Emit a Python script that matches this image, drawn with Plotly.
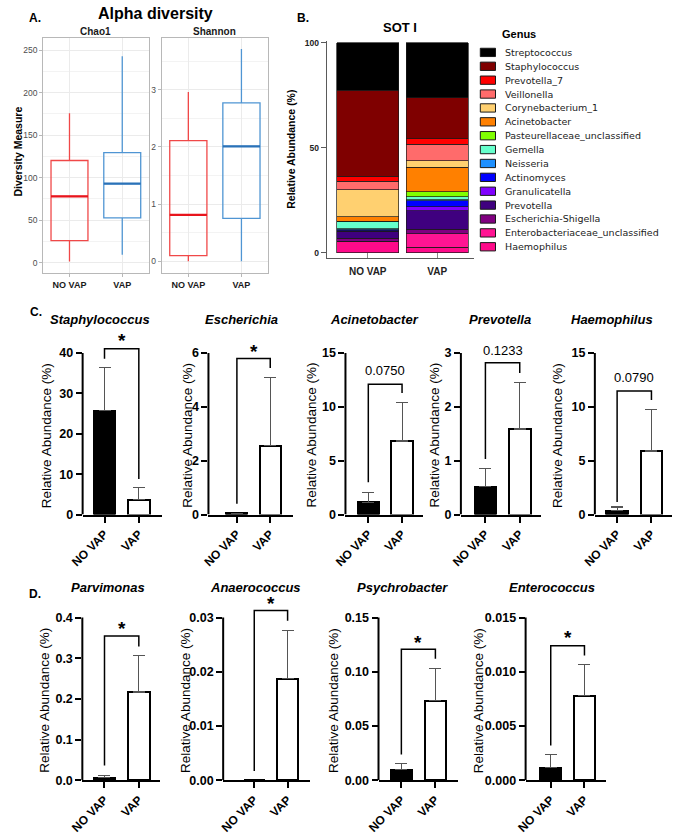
import plotly.graph_objects as go

W, H = 674, 840
FONT = "Liberation Sans, Arial, sans-serif"


def px(x):
    return x / W


def py(y):
    return 1 - y / H


groups = ["NO VAP", "VAP"]

# ---------------- Panel A data (box statistics) ----------------
chao1_min = [1.2, 9.3]
chao1_q1 = [25.9, 52.7]
chao1_median = [77.9, 93.0]
chao1_q3 = [120.1, 129.4]
chao1_max = [175.6, 242.7]

shannon_min = [0.0, 0.0]
shannon_q1 = [0.10, 0.75]
shannon_median = [0.81, 2.01]
shannon_q3 = [2.11, 2.77]
shannon_max = [2.96, 3.71]

# ---------------- Panel B data (relative abundance, %) ----------------
genus = ["Streptococcus", "Staphylococcus", "Prevotella_7", "Veillonella",
         "Corynebacterium_1", "Acinetobacter", "Pasteurellaceae_unclassified",
         "Gemella", "Neisseria", "Actinomyces", "Granulicatella", "Prevotella",
         "Escherichia-Shigella", "Enterobacteriaceae_unclassified", "Haemophilus"]
abund_novap = [22.6, 41.0, 2.35, 3.95, 13.0, 2.07, 0.3, 3.4, 0.3, 0.5, 0.3, 3.4, 1.3, 0.3, 5.2]
abund_vap = [26.2, 19.4, 2.7, 7.8, 3.15, 11.6, 2.5, 1.3, 0.6, 2.7, 2.0, 8.9, 2.0, 6.6, 2.5]
genus_colors = ["#000000", "#7F0000", "#FF0000", "#FF6B6B", "#FFD070", "#FF8000",
                "#80FF00", "#66FFCC", "#1E90FF", "#0000FF", "#8000FF", "#3F007F",
                "#800080", "#FF1493", "#FF0A8A"]

# ---------------- Panels C / D data (mean, upper error) ----------------
taxa_c = ["Staphylococcus", "Escherichia", "Acinetobacter", "Prevotella", "Haemophilus"]
mean_c = [[25.7, 3.67], [0.05, 2.55], [1.15, 6.83], [0.52, 1.59], [0.34, 5.9]]
err_c = [[10.7, 2.93], [0.0, 2.53], [0.93, 3.57], [0.34, 0.86], [0.36, 3.9]]
label_c = ["*", "*", "0.0750", "0.1233", "0.0790"]

taxa_d = ["Parvimonas", "Anaerococcus", "Psychrobacter", "Enterococcus"]
mean_d = [[0.006, 0.217], [0.0, 0.0187], [0.0097, 0.0734], [0.00113, 0.0078]]
err_d = [[0.005, 0.090], [0.0, 0.009], [0.0055, 0.0296], [0.00123, 0.00289]]
label_d = ["*", "*", "*", "*"]

# ---------------- layout geometry (pixels) ----------------
c_geom = [
    dict(ya=71, p0=93.3, s=35, right=151.7, tmax=40, dtick=10, fmt="d",
         tx=89, ytx=33.5, br=[38.6, 41.05, 8.8], lab_y=44.0),
    dict(ya=199.3, p0=228.3, s=34, right=285, tmax=6, dtick=2, fmt="d",
         tx=233, ytx=178, br=[0.4, 5.8, 5.45], lab_y=6.22),
    dict(ya=339, p0=362.3, s=34.4, right=418.3, tmax=15, dtick=5, fmt="d",
         tx=369, ytx=304, br=[3.0, 12.1, 11.3], lab_y=13.4),
    dict(ya=456.7, p0=481.7, s=35, right=538.3, tmax=3, dtick=1, fmt="d",
         tx=497, ytx=429.5, br=[1.03, 2.82, 2.63], lab_y=3.05),
    dict(ya=593.3, p0=616, s=35, right=672, tmax=15, dtick=5, fmt="d",
         tx=611, ytx=555.5, br=[1.17, 11.48, 10.65], lab_y=12.7),
]
d_geom = [
    dict(ya=70.7, p0=93.3, s=35, right=150, tmax=0.4, dtick=0.1, fmt=".1f",
         tx=97, ytx=32, br=[0.036, 0.355, 0.329], lab_y=0.382),
    dict(ya=214.3, p0=246, s=34, right=302.7, tmax=0.03, dtick=0.01, fmt=".2f",
         tx=247.5, ytx=176, br=[0.0017, 0.0313, 0.0294], lab_y=0.0334),
    dict(ya=372.7, p0=396, s=34.7, right=454, tmax=0.15, dtick=0.05, fmt=".2f",
         tx=396.7, ytx=327, br=[0.0236, 0.1207, 0.112], lab_y=0.131),
    dict(ya=522.7, p0=548.3, s=34.4, right=605, tmax=0.015, dtick=0.005, fmt=".3f",
         tx=550, ytx=474, br=[0.0032, 0.0124, 0.0115], lab_y=0.01349),
]
ROWS = {
    "C": dict(zero=517.7, ttop=354.3, dtop=336, title_y=320, ytitle_y=437.5),
    "D": dict(zero=786.5, ttop=622.0, dtop=598, title_y=591.7, ytitle_y=705.7),
}

fig = go.Figure()
layout = {}
shapes = []
annotations = []


def axname(n, letter):
    return letter + ("" if n == 1 else str(n))


def ann(text, x, y, size, bold=False, italic=False, color="#000", xanchor="center",
        yanchor="middle", angle=0, family=FONT, xref="paper", yref="paper", yshift=0):
    annotations.append(dict(
        text=text, x=x, y=y, xref=xref, yref=yref, showarrow=False,
        xanchor=xanchor, yanchor=yanchor, textangle=angle, yshift=yshift,
        font=dict(family=family, size=size, color=color,
                  weight="bold" if bold else "normal",
                  style="italic" if italic else "normal")))


# ---------------- Panel A ----------------
box_colors = ["#F04848", "#4F95D3"]
median_colors = ["#E8141C", "#2A72B8"]
a_panels = [
    dict(n=1, x0=30.7, x1=138.3, rng=[-12.0, 264.8], dtick=50, minor=25, label="Chao1",
         stats=(chao1_min, chao1_q1, chao1_median, chao1_q3, chao1_max)),
    dict(n=2, x0=151.7, x1=260.0, rng=[-0.2, 3.91], dtick=1, minor=0.5, label="Shannon",
         stats=(shannon_min, shannon_q1, shannon_median, shannon_q3, shannon_max)),
]
for p in a_panels:
    n = p["n"]
    xa, ya = axname(n, "x"), axname(n, "y")
    mins, q1s, meds, q3s, maxs = p["stats"]
    for i in range(2):
        fig.add_trace(go.Box(
            x=[i], q1=[q1s[i]], median=[meds[i]], q3=[q3s[i]],
            lowerfence=[mins[i]], upperfence=[maxs[i]], width=0.7, whiskerwidth=0,
            line=dict(color=box_colors[i], width=1.3), fillcolor="rgba(0,0,0,0)",
            boxpoints=False, showlegend=False, hoverinfo="skip", xaxis=xa, yaxis=ya))
        fig.add_trace(go.Scatter(
            x=[i - 0.35, i + 0.35], y=[meds[i], meds[i]], mode="lines",
            line=dict(color=median_colors[i], width=2.2), showlegend=False,
            hoverinfo="skip", xaxis=xa, yaxis=ya))
    layout["xaxis" + ("" if n == 1 else str(n))] = dict(
        domain=[px(p["x0"]), px(p["x1"])], anchor=ya, range=[-0.5, 1.5],
        tickvals=[0, 1], ticktext=groups, showgrid=True, gridcolor="#EBEBEB", gridwidth=1,
        showline=True, mirror=True, linecolor="#B8B8B8", linewidth=1,
        ticks="outside", ticklen=3, tickcolor="#B8B8B8", zeroline=False,
        tickfont=dict(family=FONT, size=9, color="#1A1A1A", weight="bold"))
    layout["yaxis" + ("" if n == 1 else str(n))] = dict(
        domain=[py(273), py(35)], anchor=xa, range=p["rng"], dtick=p["dtick"], tick0=0,
        showgrid=True, gridcolor="#EBEBEB", gridwidth=1,
        minor=dict(dtick=p["minor"], tick0=0, showgrid=True, gridcolor="#F3F3F3", gridwidth=0.6),
        showline=True, mirror=True, linecolor="#B8B8B8", linewidth=1,
        ticks="outside", ticklen=3, tickcolor="#B8B8B8", zeroline=False,
        tickfont=dict(family=FONT, size=8.5, color="#4D4D4D"))
    ann(p["label"], px((p["x0"] + p["x1"]) / 2), py(28.5), 10, bold=True, color="#1A1A1A")

ann("Alpha diversity", px(145), py(10.5), 16, bold=True)
ann("A.", px(14), py(15), 12, bold=True, xanchor="left")
ann("Diversity Measure", px(5.5), py(150), 10.5, bold=True, angle=-90)

# ---------------- Panel B ----------------
b_center0, b_step = 361.7, 70.8
b_left, b_right = 320, 470
b_zero, b_scale = 252.7, 2.124
for name, v0, v1, col in reversed(list(zip(genus, abund_novap, abund_vap, genus_colors))):
    fig.add_trace(go.Bar(
        x=[0, 1], y=[v0, v1], width=0.895, name=name,
        marker=dict(color=col, line=dict(color="#1A1A1A", width=0.7)),
        showlegend=False, hoverinfo="skip", xaxis="x3", yaxis="y3"))
layout["barmode"] = "stack"
layout["xaxis3"] = dict(
    domain=[px(b_left), px(b_right)], anchor="y3",
    range=[(b_left - b_center0) / b_step, (b_right - b_center0) / b_step],
    tickvals=[0, 1], ticktext=groups, showgrid=False, zeroline=False,
    showline=True, linecolor="#5A5A5A", linewidth=1.3,
    ticks="inside", ticklen=5, tickcolor="#8A8A8A", tickwidth=1, ticklabelstandoff=4,
    tickfont=dict(family=FONT, size=10, color="#222", weight="bold"))
layout["yaxis3"] = dict(
    domain=[py(258.3), py(38)], anchor="x3",
    range=[-(258.3 - b_zero) / b_scale, (b_zero - 38) / b_scale],
    tickvals=[0, 50, 100], showgrid=False, zeroline=False,
    showline=True, linecolor="#5A5A5A", linewidth=1.3,
    ticks="outside", ticklen=5, tickcolor="#5A5A5A", tickwidth=1.3,
    tickfont=dict(family=FONT, size=8.5, color="#222", weight="bold"))
ann("B.", px(288), py(15), 12, bold=True, xanchor="left")
ann("SOT I", px(395), py(25), 13, bold=True)
ann("Relative Abundance (%)", px(284), py(148), 10.5, bold=True, angle=-90)

# manual legend
ann("Genus", px(497), py(31), 11, bold=True, xanchor="left")
for i, (name, col) in enumerate(zip(genus, genus_colors)):
    yc = 50 + i * 14.05
    shapes.append(dict(type="rect", xref="paper", yref="paper",
                       x0=px(476.5), x1=px(492), y0=py(yc + 4.2), y1=py(yc - 4.2),
                       fillcolor=col, line=dict(color="#1A1A1A", width=1)))
    ann(name, px(499.5), py(yc), 9.5, xanchor="left", color="#222",
        family="DejaVu Sans, sans-serif")


# ---------------- Panels C and D ----------------
def bar_panel(n, taxon, means, errs, label, g, row):
    xa, ya = "x" + str(n), "y" + str(n)
    r = ROWS[row]
    rtop = g["tmax"] * (r["zero"] - r["dtop"]) / (r["zero"] - r["ttop"])
    fig.add_trace(go.Bar(
        x=[0, 1], y=means, width=0.63,
        marker=dict(color=["#000000", "#FFFFFF"], line=dict(color="#000000", width=2)),
        error_y=dict(type="data", array=errs, arrayminus=[0, 0], symmetric=False,
                     color="#555555", thickness=1.1, width=6),
        showlegend=False, hoverinfo="skip", xaxis=xa, yaxis=ya))
    b = g["br"]
    fig.add_trace(go.Scatter(
        x=[0, 0, 1, 1], y=[b[0], b[1], b[1], b[2]], mode="lines",
        line=dict(color="#000000", width=1.5), showlegend=False, hoverinfo="skip",
        xaxis=xa, yaxis=ya))
    ticks = []
    k = 0
    while k * g["dtick"] <= g["tmax"] * 1.0001:
        ticks.append(round(k * g["dtick"], 6))
        k += 1
    layout["xaxis" + str(n)] = dict(
        domain=[px(g["ya"]), px(g["right"])], anchor=ya,
        range=[(g["ya"] - g["p0"]) / g["s"], (g["right"] - g["p0"]) / g["s"]],
        tickvals=[0, 1], ticktext=groups, tickangle=-45, showgrid=False, zeroline=False,
        showline=True, linecolor="#000", linewidth=2,
        ticks="outside", ticklen=6, tickwidth=2, tickcolor="#000",
        tickfont=dict(family=FONT, size=12, color="#000", weight="bold"))
    layout["yaxis" + str(n)] = dict(
        domain=[py(r["zero"]), py(r["dtop"])], anchor=xa, range=[0, rtop],
        tickvals=ticks, tickformat=g["fmt"], showgrid=False, zeroline=False,
        showline=False, ticks="outside", ticklen=6, tickwidth=2, tickcolor="#000",
        tickfont=dict(family=FONT, size=12.5, color="#000", weight="bold"))
    shapes.append(dict(type="line", xref="paper", yref=ya, x0=px(g["ya"]), x1=px(g["ya"]),
                       y0=0, y1=g["tmax"], line=dict(color="#000", width=2)))
    # titles
    ann(taxon, px(g["tx"]), py(r["title_y"]), 13, bold=True, italic=True)
    ann("Relative Abundance (%)", px(g["ytx"]), py(r["ytitle_y"]), 13.5, angle=-90)
    if label == "*":
        ann("*", 0.5, g["lab_y"], 19, bold=True, xref=xa, yref=ya, yshift=-4)
    else:
        ann(label, 0.5, g["lab_y"], 13, xref=xa, yref=ya)


for j in range(5):
    bar_panel(4 + j, taxa_c[j], mean_c[j], err_c[j], label_c[j], c_geom[j], "C")
for j in range(4):
    bar_panel(9 + j, taxa_d[j], mean_d[j], err_d[j], label_d[j], d_geom[j], "D")

ann("C.", px(15), py(313), 12, bold=True, xanchor="left")
ann("D.", px(14), py(598), 12, bold=True, xanchor="left")

layout.update(dict(
    width=W, height=H, margin=dict(l=0, r=0, t=0, b=0),
    paper_bgcolor="#FFFFFF", plot_bgcolor="#FFFFFF",
    font=dict(family=FONT, color="#000"),
    showlegend=False, shapes=shapes, annotations=annotations,
))
fig.update_layout(**layout)
fig.write_html("out.html")
